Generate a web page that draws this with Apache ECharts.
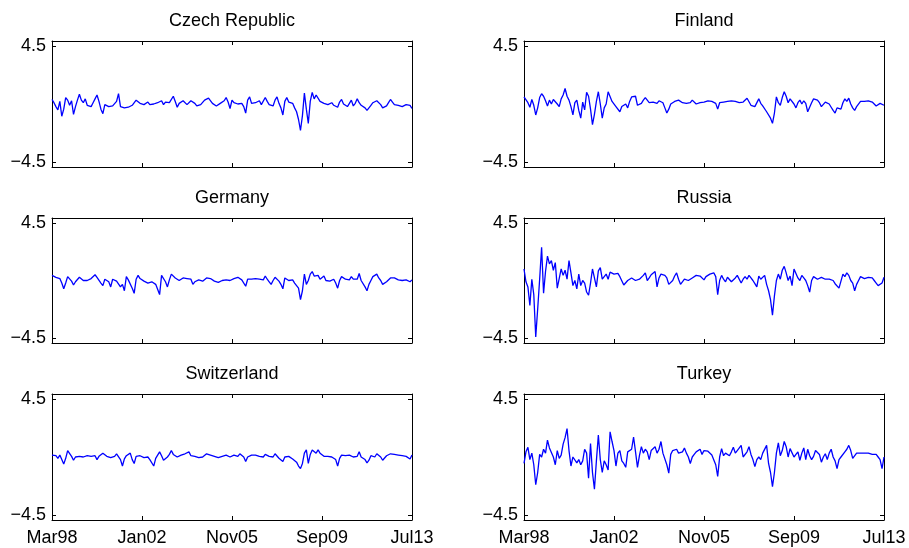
<!DOCTYPE html>
<html><head><meta charset="utf-8">
<script src="https://cdn.jsdelivr.net/npm/echarts@6/dist/echarts.min.js"></script>
<style>html,body{margin:0;padding:0;background:#fff}#c{width:909px;height:548px}</style>
</head><body><div id="c"></div>
<script>
const titles = ['Czech Republic', 'Finland', 'Germany', 'Russia', 'Switzerland', 'Turkey'];
const tickLabels = ['Mar98', 'Jan02', 'Nov05', 'Sep09', 'Jul13'];
const yTicks = [-4.5, 4.5];

const czech = [
0.35,0.1,-0.2,-0.45,0.2,-0.95,-0.4,0.5,0.3,-0.1,
0.25,-0.8,-0.2,0.3,0.75,0.3,0.1,0.4,-0.1,-0.25,
-0.2,0.1,0.4,0.7,0.2,-0.4,-0.75,-0.05,0.0,-0.2,
-0.3,-0.15,-0.05,0.2,0.8,-0.2,-0.35,-0.3,-0.15,-0.25,
-0.3,-0.1,-0.25,0.3,0.2,0.05,0.1,-0.05,0.05,0.15,
-0.05,-0.1,0.0,-0.1,0.1,0.0,0.25,-0.05,0.15,0.05,
0.1,-0.05,0.6,0.2,-0.25,0.05,0.15,0.25,0.1,-0.05,
0.1,0.25,0.1,0.05,-0.15,0.0,-0.05,0.1,0.3,0.2,
0.45,0.3,0.05,0.2,-0.15,-0.3,0.05,0.2,0.25,0.5,
0.15,-0.35,0.3,0.1,0.2,0.0,0.15,0.05,-0.2,-0.7,
0.3,0.55,0.05,0.2,0.1,0.15,0.25,-0.05,0.1,0.5,
0.2,-0.05,0.05,-0.15,0.3,0.55,0.05,-0.3,-0.85,0.2,
0.5,0.15,0.1,0.05,-0.3,-0.6,-1.2,-2.05,-0.9,0.85,
-0.4,-1.5,0.2,0.9,0.4,0.7,0.55,0.2,0.3,0.05,
-0.1,-0.05,-0.2,0.1,-0.1,0.05,-0.25,0.15,0.35,0.0,
0.1,-0.2,0.05,0.3,-0.15,0.05,0.4,0.1,-0.1,-0.2,
-0.3,-0.5,-0.3,-0.1,0.1,0.0,0.25,0.35,-0.05,-0.3,
-0.4,-0.15,0.1,0.35,0.15,-0.05,-0.2,-0.1,-0.05,-0.2,
-0.15,-0.05,-0.2,-0.1,-0.35];

const finland = [
0.55,0.45,0.1,-0.25,0.35,-0.1,-0.85,-0.3,0.5,0.8,
0.6,0.25,-0.15,0.3,0.0,0.35,0.5,0.0,-0.2,0.4,
0.7,1.2,0.6,0.3,-0.2,-0.85,0.1,0.3,-0.5,-1.1,
0.15,-0.45,0.9,0.6,-0.4,-1.6,-0.8,0.2,0.95,0.0,
-1.1,-0.3,0.0,0.95,0.9,0.2,0.1,-0.2,-0.3,-0.6,
-0.2,-0.1,0.0,-0.3,0.2,0.55,0.45,0.6,-0.1,-0.25,
0.05,0.3,0.5,0.3,0.1,0.0,0.15,0.2,0.05,0.25,
0.3,0.1,-0.3,-0.7,-0.4,0.0,0.15,0.2,0.35,0.3,
0.35,0.1,-0.05,0.05,0.0,0.1,0.3,0.15,0.0,0.05,
0.1,0.0,0.15,0.2,0.25,0.3,0.2,0.25,0.05,-0.4,
0.1,0.2,0.15,0.3,0.2,0.1,0.25,0.35,0.2,0.3,
0.1,0.0,0.15,0.2,0.45,0.3,-0.1,0.05,-0.2,-0.3,
0.4,0.05,-0.15,-0.25,-0.6,-0.5,-1.1,-1.5,-0.7,0.55,
0.1,-0.1,0.5,0.95,0.6,0.1,0.4,0.55,0.0,-0.3,
0.1,0.3,0.0,0.25,0.05,-0.6,-0.5,0.1,0.4,0.55,
0.3,0.1,-0.2,-0.1,0.15,0.3,0.0,-0.25,-0.5,-0.7,
-0.3,-0.15,-0.4,0.1,0.4,0.2,0.45,0.0,-0.3,-0.5,
-0.2,-0.1,0.2,0.35,0.2,0.1,0.25,0.1,0.15,0.0,
-0.15,-0.2,0.05,0.1,-0.1];

const germany = [
0.4,0.3,0.25,0.3,0.15,-0.2,-0.65,-0.2,0.3,0.2,
-0.05,-0.35,-0.1,0.0,0.25,0.2,0.0,0.1,0.0,0.1,
0.15,0.2,0.45,0.25,0.1,-0.2,-0.4,0.1,0.0,-0.1,
-0.5,0.1,0.15,-0.05,0.05,-0.5,-0.3,-0.8,0.3,0.05,
-0.1,-0.6,-1.0,0.1,0.4,0.15,0.05,-0.05,-0.1,-0.2,
-0.25,-0.1,0.0,-0.3,-0.45,-1.1,0.4,0.3,-0.1,-0.5,
0.05,0.5,0.6,0.2,0.1,0.0,0.05,0.2,0.1,0.15,
0.25,0.1,-0.3,-0.1,-0.2,0.05,0.0,-0.05,0.1,0.2,
0.3,0.15,0.0,-0.05,0.05,-0.15,-0.1,0.0,0.15,0.05,
0.1,0.0,0.05,0.15,0.2,0.25,0.15,0.05,-0.1,-0.45,
0.1,0.15,0.1,0.05,0.15,0.2,0.1,0.2,0.05,0.35,
0.1,-0.1,-0.3,0.0,0.25,0.1,-0.05,-0.3,-0.65,0.2,
0.1,0.0,0.15,0.05,-0.2,-0.35,-0.6,-1.5,-0.8,0.5,
-0.3,0.0,0.5,0.7,0.35,0.25,0.4,0.1,0.2,0.35,
0.0,0.15,-0.05,0.0,0.1,-0.2,-0.6,0.0,0.3,0.4,
0.1,0.2,0.05,0.3,0.1,-0.05,0.1,0.55,0.0,-0.15,
-0.5,-0.8,-0.3,0.0,0.3,0.4,0.5,0.2,0.0,-0.3,
-0.45,-0.1,0.05,0.2,0.3,0.2,0.1,0.05,0.15,0.0,
-0.1,0.05,0.0,-0.1,0.05];

const russia = [
0.9,-0.1,-0.5,-1.95,0.1,-1.1,-4.4,-2.2,0.1,2.6,
-1.0,0.7,1.9,1.3,1.55,0.8,1.4,-0.6,-0.5,0.9,
0.4,0.8,0.1,1.55,0.6,-0.4,0.0,-0.65,0.5,-0.4,
0.0,-0.2,-0.9,-1.15,-0.2,0.9,0.2,-0.5,0.75,1.0,
0.1,0.0,0.5,0.1,0.65,0.75,0.5,0.6,0.55,0.3,
0.25,-0.35,-0.4,0.0,0.15,0.2,0.05,0.0,0.05,0.1,
0.1,0.4,0.6,0.0,0.2,0.45,0.6,0.7,-0.5,0.2,
0.5,0.45,0.4,0.2,-0.3,-0.4,0.0,0.35,0.6,0.1,
-0.3,-0.4,0.1,0.2,0.0,0.1,0.2,0.35,0.4,0.25,
0.35,0.5,0.05,0.3,0.4,0.5,0.5,0.6,0.3,-1.1,
0.0,0.4,0.1,-0.1,0.25,0.3,-0.1,0.0,0.2,0.4,
0.3,-0.2,0.1,0.3,0.1,0.4,0.2,0.0,-0.25,-0.5,
0.35,0.1,0.0,0.4,-0.3,-0.8,-1.5,-2.7,-1.2,0.0,
0.5,0.1,0.8,1.1,0.6,0.0,0.35,-0.4,0.9,0.95,
0.2,0.0,0.4,0.2,0.0,-0.4,-0.9,0.0,0.3,0.25,
0.1,0.05,0.25,0.15,0.1,0.0,0.1,0.15,0.0,-0.25,
-0.4,-0.6,-0.5,0.5,0.3,0.6,0.4,0.0,-0.2,-0.8,
-0.3,0.0,0.3,0.25,0.15,0.0,0.25,0.3,0.2,0.0,
-0.2,-0.4,-0.3,-0.2,0.25];

const switzerland = [
0.15,0.05,0.1,-0.1,0.15,0.25,-0.55,-0.1,0.5,0.6,
0.05,-0.25,0.0,-0.15,0.05,-0.05,0.0,0.05,0.1,0.0,
0.05,0.15,0.1,-0.2,0.05,0.0,0.3,0.15,0.05,0.0,
-0.05,-0.2,0.05,0.25,0.3,-0.2,-0.7,-0.15,0.1,0.0,
0.3,-0.2,-0.5,0.05,0.15,0.1,0.0,-0.05,0.05,0.0,
-0.2,-0.1,-0.7,-0.1,-0.05,0.4,0.1,-0.25,-0.1,0.0,
0.2,0.5,0.2,0.1,0.0,0.05,0.15,0.2,0.25,0.3,
0.4,0.1,0.0,0.05,0.0,-0.05,-0.1,0.0,0.05,0.25,
0.2,0.15,0.0,0.05,0.0,-0.05,-0.02,0.05,0.1,0.15,
0.1,0.0,0.05,0.15,0.1,0.05,0.25,0.15,0.0,-0.35,
0.0,0.1,0.15,0.1,0.15,0.1,0.05,0.1,0.0,0.2,
0.3,0.05,-0.05,0.0,0.25,0.1,-0.1,-0.25,-0.35,0.0,
0.15,0.05,-0.1,-0.15,-0.2,-0.4,-0.7,-0.9,-0.5,0.3,
0.55,-0.5,0.2,0.55,0.5,0.3,0.55,0.3,0.2,0.05,
0.0,0.05,-0.1,0.0,0.05,-0.2,-0.7,-0.1,0.15,0.3,
0.1,0.0,0.15,0.05,0.0,0.1,0.05,0.4,0.0,0.05,
-0.2,-0.45,-0.25,0.1,0.05,0.0,0.25,0.15,0.0,-0.25,
-0.35,0.1,0.2,0.25,0.2,0.2,0.15,0.15,0.2,0.1,
0.0,0.05,0.0,-0.15,0.15];

const turkey = [
-0.5,0.4,0.75,-0.2,0.3,-0.6,-2.15,-1.2,0.2,0.0,
0.6,0.3,1.3,0.7,0.8,0.0,-0.6,0.5,-0.1,0.15,
1.0,1.5,2.2,0.5,-0.7,0.0,-0.1,-0.45,-0.2,-0.6,
-0.3,0.6,0.3,-1.65,1.05,-1.2,-2.5,-0.3,1.7,-0.2,
-1.2,-0.3,-0.6,-1.0,1.95,1.2,0.5,-0.7,0.3,0.5,
-0.3,-0.5,-0.8,0.4,0.3,0.6,1.55,0.4,-0.8,0.1,
0.8,0.3,0.6,0.4,-0.2,0.5,0.6,0.8,0.3,0.6,
1.2,0.3,0.4,-0.6,-1.25,0.2,0.5,0.4,0.6,0.3,
0.2,0.4,0.7,0.3,0.0,-0.5,0.0,0.2,0.4,0.3,
0.6,0.2,0.5,0.4,0.45,0.3,0.15,0.0,-0.6,-1.5,
0.0,0.65,0.1,0.3,0.2,0.1,0.4,0.75,0.3,0.5,
0.4,0.9,0.0,-0.1,0.4,0.8,0.2,-0.2,-0.75,-0.2,
0.0,-0.2,0.3,0.4,0.9,-0.5,-1.2,-2.3,-1.2,0.3,
1.1,0.1,0.5,1.2,0.8,0.0,0.65,0.8,0.0,0.2,
0.4,-0.25,0.3,0.7,-0.2,0.6,0.1,-0.2,0.05,0.5,
0.5,0.2,-0.4,0.0,0.25,-0.2,0.3,0.6,0.0,-0.3,
-0.9,-0.2,0.0,-0.1,0.4,0.6,0.9,0.5,-0.1,0.0,
0.3,0.4,0.3,0.25,0.3,0.25,0.3,0.35,0.2,0.15,
0.2,0.0,-0.2,-0.9,0.0];

const seriesValues = [czech, finland, germany, russia, switzerland, turkey];

const FONT = "'Liberation Sans', Arial, Helvetica, sans-serif";
const colLeft = [52, 524];
const rowTop = [41, 218, 394];
const rowH = [126, 125, 126];
const gridW = 360;
const XMAX = 184, XSTEP = 46, YLIM = 4.88;

const grid = [], xAxis = [], yAxis = [], series = [], title = [];
const black = { color: '#000', width: 1 };
const fmtY = v => (v < 0 ? '\u2212' : '') + Math.abs(v).toFixed(1);
const fmtX = v => tickLabels[Math.round(v / XSTEP)];

for (let i = 0; i < 6; i++) {
  const r = Math.floor(i / 2), c = i % 2;
  grid.push({ left: colLeft[c], top: rowTop[r], width: gridW, height: rowH[r], containLabel: false });
  const xBase = {
    type: 'value', gridIndex: i, min: 0, max: XMAX, interval: XSTEP,
    axisLine: { show: true, onZero: false, lineStyle: black },
    axisTick: { show: true, inside: true, length: 4, lineStyle: black },
    splitLine: { show: false }
  };
  xAxis.push(Object.assign({}, xBase, {
    position: 'bottom',
    axisLabel: { show: r === 2, fontSize: 18, color: '#000', fontFamily: FONT, margin: 9,
      formatter: fmtX, showMinLabel: true, showMaxLabel: true, interval: 0 }
  }));
  xAxis.push(Object.assign({}, xBase, { position: 'top', axisLabel: { show: false } }));
  const yBase = {
    type: 'value', gridIndex: i, min: -YLIM, max: YLIM,
    axisLine: { show: true, onZero: false, lineStyle: black },
    axisTick: { show: true, inside: true, length: 4, lineStyle: black, customValues: yTicks },
    splitLine: { show: false }
  };
  yAxis.push(Object.assign({}, yBase, {
    position: 'left',
    axisLabel: { show: true, fontSize: 18, color: '#000', fontFamily: FONT, margin: 6,
      lineHeight: 18, padding: [4, 0, 0, 0], customValues: yTicks, formatter: fmtY }
  }));
  yAxis.push(Object.assign({}, yBase, { position: 'right', axisLabel: { show: false } }));
  series.push({
    type: 'line', xAxisIndex: 2 * i, yAxisIndex: 2 * i,
    data: seriesValues[i].map((v, k) => [k, v]),
    showSymbol: false, symbol: 'none', silent: true,
    lineStyle: { color: '#0000ff', width: 1.3 }
  });
  title.push({
    text: titles[i], left: colLeft[c] + gridW / 2, top: rowTop[r] - 29, textAlign: 'center', padding: 0,
    textStyle: { fontSize: 18, fontWeight: 'normal', color: '#000', fontFamily: FONT, lineHeight: 18 }
  });
}

const chart = echarts.init(document.getElementById('c'), null, { renderer: 'canvas' });
chart.setOption({ animation: false, backgroundColor: '#fff', title, grid, xAxis, yAxis, series });
</script></body></html>
